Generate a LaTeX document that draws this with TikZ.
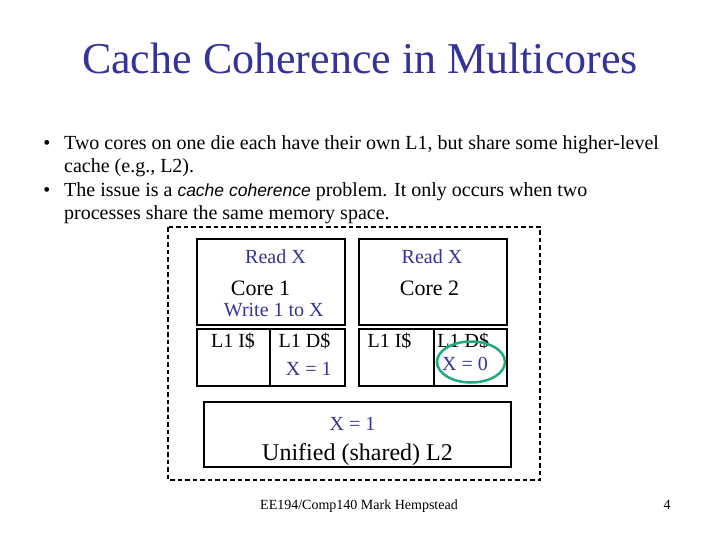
\documentclass[tikz,border=0pt]{standalone}
\usepackage{fontspec}
\setmainfont{Liberation Serif}
\newfontfamily\slantsans{Liberation Sans}
\usetikzlibrary{positioning}
\definecolor{slideblue}{RGB}{51,51,153}
\definecolor{ringgreen}{RGB}{32,170,130}
\begin{document}
\begin{tikzpicture}[x=1pt, y=-1pt,
        box/.style={draw, line width=2pt, inner sep=0pt},
        label/.style={anchor=base, inner sep=0pt, font=\fontsize{20}{22}\selectfont},
        bluelabel/.style={label, text=slideblue},
        biglabel/.style={anchor=base, inner sep=0pt, font=\fontsize{22}{24}\selectfont}]
    \useasboundingbox (0,0) rectangle (720,540);
    \node[anchor=base, inner sep=0pt, text=slideblue, font=\fontsize{44}{50}\selectfont] (title) at (360,74) {Cache Coherence in Multicores};
    \node[anchor=base west, inner sep=0pt, align=left, font=\fontsize{20}{23.5}\selectfont] (bulletA) at (64,173)
        {Two cores on one die each have their own L1, but share some higher-level\\ cache (e.g., L2).};
    \node[anchor=base west, inner sep=0pt, align=left, font=\fontsize{20}{23.5}\selectfont] (bulletB) at (64,220)
        {The issue is a {\slantsans\itshape\fontsize{17.5}{20}\selectfont cache coherence} problem. It only occurs when two\\ processes share the same memory space.};
    \node[anchor=base, inner sep=0pt, font=\fontsize{20}{22}\selectfont] (dotA) at (47,149.5) {\textbullet};
    \node[anchor=base, inner sep=0pt, font=\fontsize{20}{22}\selectfont] (dotB) at (47,196.5) {\textbullet};
    \draw[line width=1.8pt, dash pattern=on 4.5pt off 3pt] (168,227) rectangle (540,480);
    \node[box, minimum width=148pt, minimum height=86pt] (core1) at (271,282) {};
    \node[box, minimum width=73pt, minimum height=57pt] (icache1) at (233.5,357.5) {};
    \node[box, minimum width=75pt, minimum height=57pt] (dcache1) at (307.5,357.5) {};
    \node[box, minimum width=148pt, minimum height=86pt] (core2) at (433,282) {};
    \node[box, minimum width=75pt, minimum height=57pt] (icache2) at (396.5,357.5) {};
    \node[box, minimum width=73pt, minimum height=57pt] (dcache2) at (470.5,357.5) {};
    \node[box, minimum width=307pt, minimum height=65pt] (ltwo) at (357.5,434.5) {};
    \node[bluelabel] (read1) at (275.5,263.3) {Read X};
    \node[biglabel] (name1) at (260.5,295.7) {Core 1};
    \node[bluelabel] (write1) at (273.8,316) {Write 1 to X};
    \node[bluelabel] (read2) at (432,263.3) {Read X};
    \node[biglabel] (name2) at (429.5,295.7) {Core 2};
    \node[label] (itext1) at (233,347.7) {L1 I\$};
    \node[label] (dtext1) at (304.5,347.7) {L1 D\$};
    \node[bluelabel] (val1) at (308.7,375) {X = 1};
    \node[label] (itext2) at (389.5,347.7) {L1 I\$};
    \node[label] (dtext2) at (463.3,347.7) {L1 D\$};
    \node[bluelabel] (val2) at (465,370.7) {X = 0};
    \draw[ringgreen, line width=2.5pt] (471,362) ellipse (34 and 20.5);
    \node[bluelabel] (valtwo) at (352.5,430.7) {X = 1};
    \node[anchor=base, inner sep=0pt, font=\fontsize{24}{28}\selectfont] (ltwotext) at (357.5,460.7) {Unified (shared) L2};
    \node[anchor=base, inner sep=0pt, font=\fontsize{14}{16}\selectfont] (footer) at (359,509) {EE194/Comp140 Mark Hempstead};
    \node[anchor=base, inner sep=0pt, font=\fontsize{14}{16}\selectfont] (page) at (667,509) {4};
\end{tikzpicture}
\end{document}
